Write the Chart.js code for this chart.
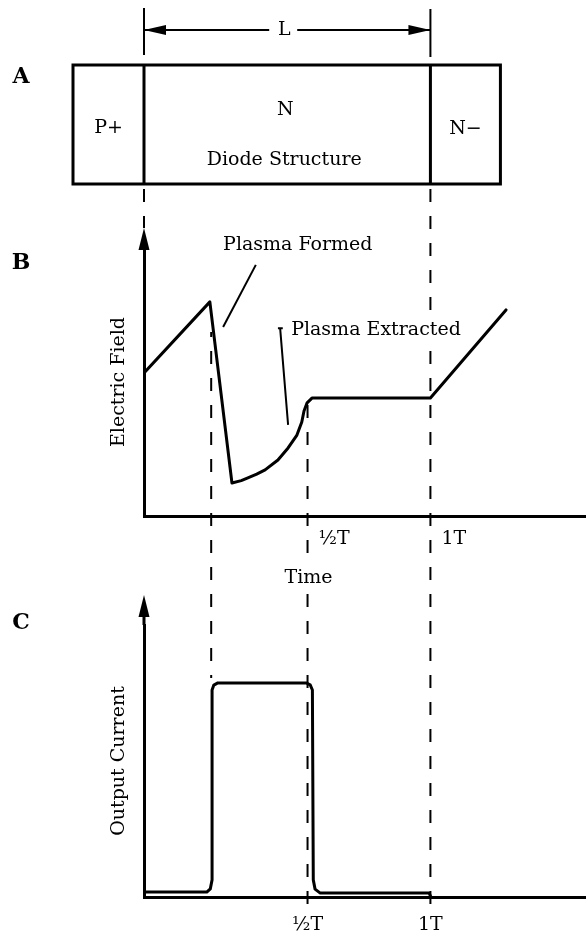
<!DOCTYPE html>
<html>
<head>
<meta charset="utf-8">
<title>Diode Structure</title>
<script src="https://cdn.jsdelivr.net/npm/chart.js@4.4.1/dist/chart.umd.min.js"></script>
<style>
body { margin: 0; background: #fff; }
#wrap { position: relative; width: 586px; height: 935px; }
#fieldChart { position: absolute; left: 0; top: 0; }
#currentChart { position: absolute; left: 0; top: 590px; }
</style>
</head>
<body>
<div id="wrap">
<canvas id="fieldChart" width="586" height="590"></canvas>
<canvas id="currentChart" width="586" height="345"></canvas>
</div>
<script>
// time axis runs 0..100, the period marks sit here
var tickValues = [37.0, 64.8];
var tickLabels = ['½T', '1T'];
var tPlasma = 15.2; // plasma forms

// electric field across the N region
var fieldTime  = [0, 14.9, 19.9, 22.0, 23.5, 25.5, 27.4, 30.3, 32.6, 34.6, 35.7, 36.2, 36.9, 38.0, 64.8, 81.9];
var fieldValue = [53.4, 79.9, 12.3, 13.2, 14.2, 15.6, 17.2, 20.9, 25.4, 30.2, 35.1, 39.2, 42.2, 44.0, 44.0, 76.9];

// output current
var currentTime  = [0, 14.2, 15.0, 15.4, 15.4, 15.8, 16.7, 36.7, 37.6, 38.1, 38.3, 38.7, 39.8, 64.5, 64.9];
var currentValue = [1.8, 1.8, 3.0, 6.3, 76.1, 77.9, 78.7, 78.7, 78.0, 76.1, 6.3, 2.9, 1.5, 1.5, 0];

var FONT = '19px "DejaVu Serif"';
var BOLD = 'bold 22px "DejaVu Serif"';

Chart.defaults.font.family = '"DejaVu Serif", serif';
Chart.defaults.font.size = 19;
Chart.defaults.color = '#000';
Chart.defaults.animation = false;

var PAGE_GAP = 590; // where the current chart starts on the page
var DASH = [13, 14];

function pairs(xs, ys) {
    return xs.map(function (x, i) { return {x: x, y: ys[i]}; });
}

function timeAxis(pad, offset, height) {
    return {
        type: 'linear', min: 0, max: 100,
        grid: {display: false, drawTicks: false},
        border: {color: '#000', width: 3},
        afterBuildTicks: function (axis) {
            axis.ticks = tickValues.map(function (v) { return {value: v}; });
        },
        afterFit: function (axis) { axis.height = height; },
        ticks: {
            padding: pad, labelOffset: offset, align: offset ? 'start' : 'center',
            maxRotation: 0, autoSkip: false,
            callback: function (value, i) { return tickLabels[i]; }
        }
    };
}

function valueAxis(title) {
    return {
        type: 'linear', min: 0, max: 100,
        grid: {display: false, drawTicks: false},
        border: {color: '#000', width: 3},
        ticks: {display: false},
        afterFit: function (axis) { axis.width = 36; },
        title: {display: true, text: title, padding: {top: 0, bottom: 0}}
    };
}

function lineSet(data) {
    return {
        data: data, borderColor: '#000', borderWidth: 3, pointRadius: 0,
        tension: 0, borderJoinStyle: 'round', borderCapStyle: 'round'
    };
}

function dashed(ctx, x, y1, y2, pageTop) {
    ctx.save();
    ctx.lineWidth = 2;
    ctx.setLineDash(DASH);
    ctx.lineDashOffset = (pageTop + y1) % (DASH[0] + DASH[1]);
    ctx.beginPath();
    ctx.moveTo(x, y1);
    ctx.lineTo(x, y2);
    ctx.stroke();
    ctx.restore();
}

function upArrow(ctx, x, tip, len, half) {
    ctx.beginPath();
    ctx.moveTo(x, tip);
    ctx.lineTo(x - half, tip + len);
    ctx.lineTo(x + half, tip + len);
    ctx.closePath();
    ctx.fill();
}

function sideArrow(ctx, tipX, y, len, half) {
    ctx.beginPath();
    ctx.moveTo(tipX, y);
    ctx.lineTo(tipX + len, y - half);
    ctx.lineTo(tipX + len, y + half);
    ctx.closePath();
    ctx.fill();
}

function text(ctx, str, x, y, font, align) {
    ctx.font = font || FONT;
    ctx.textAlign = align || 'center';
    ctx.textBaseline = 'middle';
    ctx.fillText(str, x, y);
}

// text on a white patch so the guide lines stop behind it
function clearText(ctx, str, x, y, align) {
    ctx.font = FONT;
    var w = ctx.measureText(str).width;
    var left = align === 'left' ? x : x - w / 2;
    ctx.fillStyle = '#fff';
    ctx.fillRect(left - 2, y - 11, w + 4, 22);
    ctx.fillStyle = '#000';
    text(ctx, str, x, y, null, align);
}

// diode block, dimension line and labels drawn over the field chart
var fieldExtras = {
    id: 'fieldExtras',
    afterDraw: function (chart) {
        var ctx = chart.ctx, xs = chart.scales.x, ys = chart.scales.y, area = chart.chartArea;
        var x0 = xs.getPixelForValue(0);
        var xHalf = xs.getPixelForValue(tickValues[0]);
        var xT = xs.getPixelForValue(tickValues[1]);
        var px = function (t) { return xs.getPixelForValue(t); };
        var py = function (v) { return ys.getPixelForValue(v); };

        ctx.save();
        ctx.strokeStyle = '#000';
        ctx.fillStyle = '#000';

        // diode structure
        var boxL = x0 - 71, boxR = xT + 70, boxT = 65, boxB = 184;
        ctx.lineWidth = 3;
        ctx.strokeRect(boxL, boxT, boxR - boxL, boxB - boxT);
        ctx.beginPath();
        ctx.moveTo(x0, boxT); ctx.lineTo(x0, boxB);
        ctx.moveTo(xT, boxT); ctx.lineTo(xT, boxB);
        ctx.stroke();

        var mid = (x0 + xT) / 2;
        text(ctx, 'N', mid - 2, 110);
        text(ctx, 'Diode Structure', mid - 3, 160);
        text(ctx, 'P+', (boxL + x0) / 2, 128);
        text(ctx, 'N\u2212', (xT + boxR) / 2, 129);

        // length of the N region
        ctx.lineWidth = 2;
        ctx.beginPath();
        ctx.moveTo(x0, 8); ctx.lineTo(x0, 55);
        ctx.moveTo(xT, 9); ctx.lineTo(xT, 57);
        ctx.moveTo(x0, 30); ctx.lineTo(mid - 18, 30);
        ctx.moveTo(mid + 10, 30); ctx.lineTo(xT, 30);
        ctx.stroke();
        sideArrow(ctx, x0, 30, 22, 5);
        sideArrow(ctx, xT, 30, -22, 5);
        text(ctx, 'L', mid - 3, 30);

        text(ctx, 'A', 21, 77, BOLD);
        text(ctx, 'B', 21, 263, BOLD);

        // guide lines down into the lower chart
        dashed(ctx, x0, 187, area.top - 20, 0);
        dashed(ctx, xT, 187, chart.height, 0);
        dashed(ctx, px(tPlasma), 332, chart.height, 0);
        dashed(ctx, xHalf, 404, chart.height, 0);

        // axis arrow
        upArrow(ctx, x0, area.top - 20, 22, 5.5);

        // annotations
        text(ctx, 'Plasma Formed', px(34.8), py(101.1));
        ctx.lineWidth = 2;
        ctx.beginPath();
        ctx.moveTo(px(25.3), py(93.7)); ctx.lineTo(px(17.9), py(70.5));
        ctx.stroke();

        clearText(ctx, 'Plasma Extracted', px(33.3), py(69.4), 'left');
        ctx.beginPath();
        ctx.moveTo(px(30.3), py(70.1)); ctx.lineTo(px(31.4), py(70.1));
        ctx.moveTo(px(30.8), py(70.1)); ctx.lineTo(px(32.6), py(34.0));
        ctx.stroke();

        clearText(ctx, 'Time', xHalf + 1, 578);
        ctx.restore();
    }
};

var currentExtras = {
    id: 'currentExtras',
    afterDraw: function (chart) {
        var ctx = chart.ctx, xs = chart.scales.x, ys = chart.scales.y, area = chart.chartArea;
        var x0 = xs.getPixelForValue(0);
        var top = ys.getPixelForValue(Math.max.apply(null, currentValue));

        ctx.save();
        ctx.strokeStyle = '#000';
        ctx.fillStyle = '#000';

        dashed(ctx, xs.getPixelForValue(tPlasma), 0, top - 5, PAGE_GAP);
        dashed(ctx, xs.getPixelForValue(tickValues[0]), 0, area.bottom + 7, PAGE_GAP);
        dashed(ctx, xs.getPixelForValue(tickValues[1]), 0, area.bottom + 7, PAGE_GAP);

        // axis arrow with a short shaft
        ctx.lineWidth = 3;
        ctx.beginPath();
        ctx.moveTo(x0, area.top - 12); ctx.lineTo(x0, area.top);
        ctx.stroke();
        upArrow(ctx, x0, area.top - 30, 22, 5.5);

        text(ctx, 'C', 21, 33, BOLD);
        ctx.restore();
    }
};

var commonPlugins = {legend: {display: false}, tooltip: {enabled: false}};

new Chart(document.getElementById('fieldChart').getContext('2d'), {
    type: 'line',
    data: {datasets: [lineSet(pairs(fieldTime, fieldValue))]},
    options: {
        responsive: false,
        layout: {padding: {left: 108, top: 248, right: 0, bottom: 0}},
        scales: {x: timeAxis(12, 11, 74), y: valueAxis('Electric Field')},
        plugins: commonPlugins
    },
    plugins: [fieldExtras]
});

new Chart(document.getElementById('currentChart').getContext('2d'), {
    type: 'line',
    data: {datasets: [lineSet(pairs(currentTime, currentValue))]},
    options: {
        responsive: false,
        layout: {padding: {left: 108, top: 35, right: 0, bottom: 0}},
        scales: {x: timeAxis(17, 0, 38), y: valueAxis('Output Current')},
        plugins: commonPlugins
    },
    plugins: [currentExtras]
});
</script>
</body>
</html>
